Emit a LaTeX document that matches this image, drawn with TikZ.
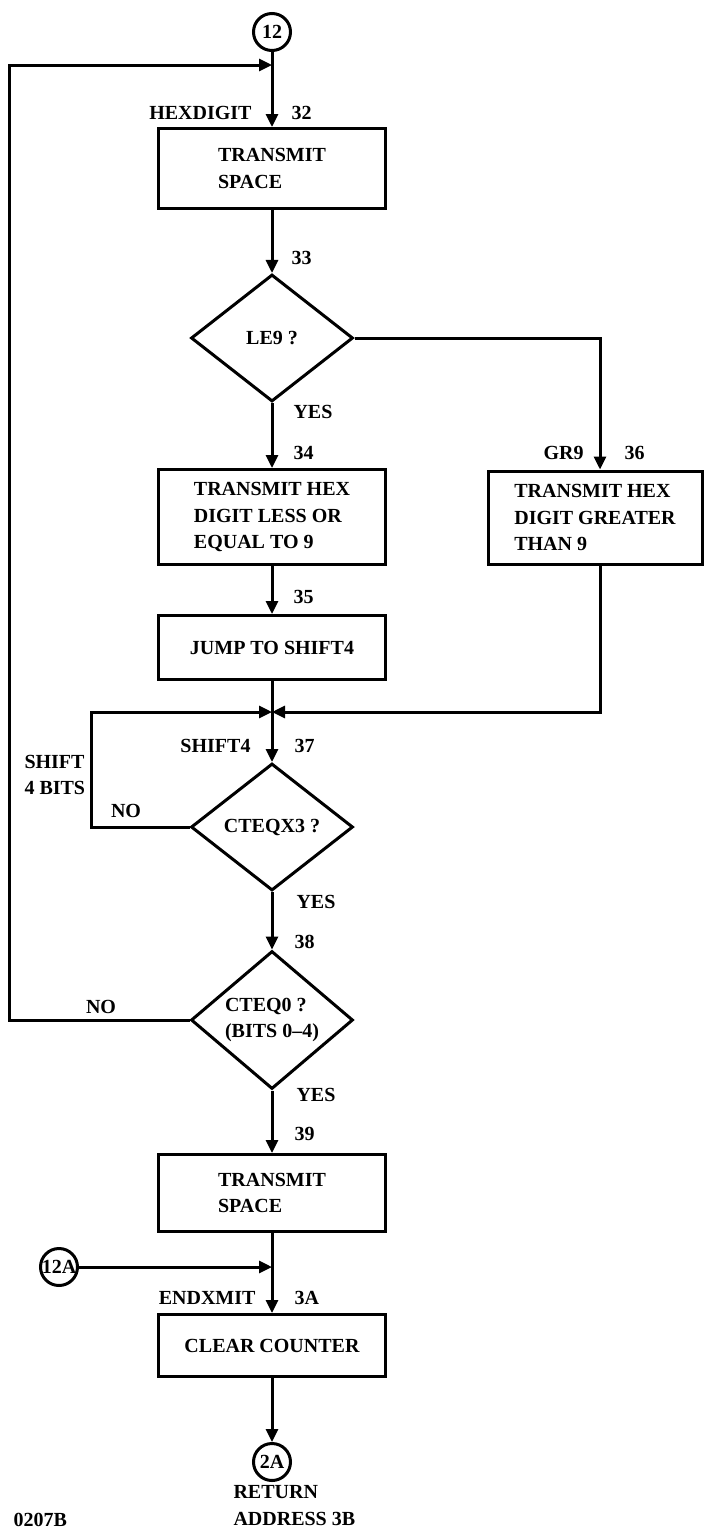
\documentclass[tikz,border=0pt]{standalone}
\usepackage{fontspec}
\setmainfont{Liberation Serif}
\usetikzlibrary{arrows.meta,shapes.geometric}

\begin{document}
\begin{tikzpicture}[x=1pt,y=-1pt,line width=3pt,
  font=\fontsize{20}{26.5}\selectfont\bfseries,
  >={Triangle[length=13pt,width=12pt]},
  proc/.style={draw,rectangle,minimum width=227pt,inner sep=0pt,align=left},
  dec/.style={draw,diamond,minimum width=162pt,minimum height=127pt,inner sep=0pt,align=left},
  onpage/.style={draw,circle,minimum size=37pt,inner sep=0pt},
  lbl/.style={inner sep=0pt,text height=13.2pt,text depth=0pt}]
\useasboundingbox (0,0) rectangle (705,1531);

% main column
\node[onpage] (c12) at (272,32) {12};
\node[proc,minimum height=80pt] (b32) at (272,168.5) {TRANSMIT\\SPACE};
\node[dec] (d33) at (272,338) {LE9 ?};
\node[proc,minimum height=95pt] (b34) at (272,517) {TRANSMIT HEX\\DIGIT LESS OR\\EQUAL TO 9};
\node[proc,minimum width=214pt,minimum height=93pt] (b36) at (595,517.5) {TRANSMIT HEX\\DIGIT GREATER\\THAN 9};
\node[proc,minimum height=64pt] (b35) at (272,647.5) {JUMP TO SHIFT4};
\node[dec] (d37) at (272,827) {CTEQX3 ?};
\node[dec] (d38) at (272,1020) {CTEQ0 ?\\(BITS 0--4)};
\node[proc,minimum height=77pt] (b39) at (272,1193) {TRANSMIT\\SPACE};
\node[proc,minimum height=62pt] (b3A) at (272,1345.5) {CLEAR COUNTER};
\node[onpage] (c12A) at (59,1267) {12A};
\node[onpage] (c2A) at (272,1462) {2A};

% labels
\node[lbl,anchor=east] (l32a) at (253,113) {HEXDIGIT};
\node[lbl,anchor=west] (l32) at (290,113) {32};
\node[lbl,anchor=west] (l33) at (290,258) {33};
\node[lbl,anchor=west] (y33) at (292,412) {YES};
\node[lbl,anchor=west] (l34) at (292,453) {34};
\node[lbl,anchor=east] (l36a) at (585,453) {GR9};
\node[lbl,anchor=west] (l36) at (623,453) {36};
\node[lbl,anchor=west] (l35) at (292,597) {35};
\node[lbl,anchor=east] (l37a) at (252,746) {SHIFT4};
\node[lbl,anchor=west] (l37) at (293,746) {37};
\node[inner sep=0pt,align=left,anchor=west] (sh4) at (23,775) {SHIFT\\4 BITS};
\node[lbl] (n37) at (126,811) {NO};
\node[lbl,anchor=west] (y37) at (295,902) {YES};
\node[lbl,anchor=west] (l38) at (293,942) {38};
\node[lbl] (n38) at (101,1007) {NO};
\node[lbl,anchor=west] (y38) at (295,1095) {YES};
\node[lbl,anchor=west] (l39) at (293,1134) {39};
\node[lbl,anchor=east] (l3Aa) at (257,1298) {ENDXMIT};
\node[lbl,anchor=west] (l3A) at (293,1298) {3A};
\node[inner sep=0pt,align=left,anchor=west] (ret) at (232,1505.5) {RETURN\\ADDRESS 3B};
\node[lbl,anchor=west] (fig) at (12,1520) {0207B};

% flow lines
\coordinate (j1) at (272,65);
\coordinate (j2) at (272,712);
\coordinate (j3) at (272,1267);
\draw[->] (c12) -- (b32);
\draw[->] (b32) -- (d33);
\draw[->] (d33) -- (b34);
\draw[->] (d33.east) -| ([xshift=5pt]b36.north);
\draw[->] (b34) -- (b35);
\draw[->] (b35) -- (d37);
\draw[->] ([xshift=5pt]b36.south) |- (j2);
\draw[->] (d37.west) -- ++(-98,0) |- (j2);
\draw[->] (d37) -- (d38);
\draw[->] (d38.west) -- ++(-180,0) |- (j1);
\draw[->] (d38) -- (b39);
\draw[->] (b39) -- (b3A);
\draw[->] (c12A) -- (j3);
\draw[->] (b3A) -- (c2A);
\end{tikzpicture}
\end{document}
